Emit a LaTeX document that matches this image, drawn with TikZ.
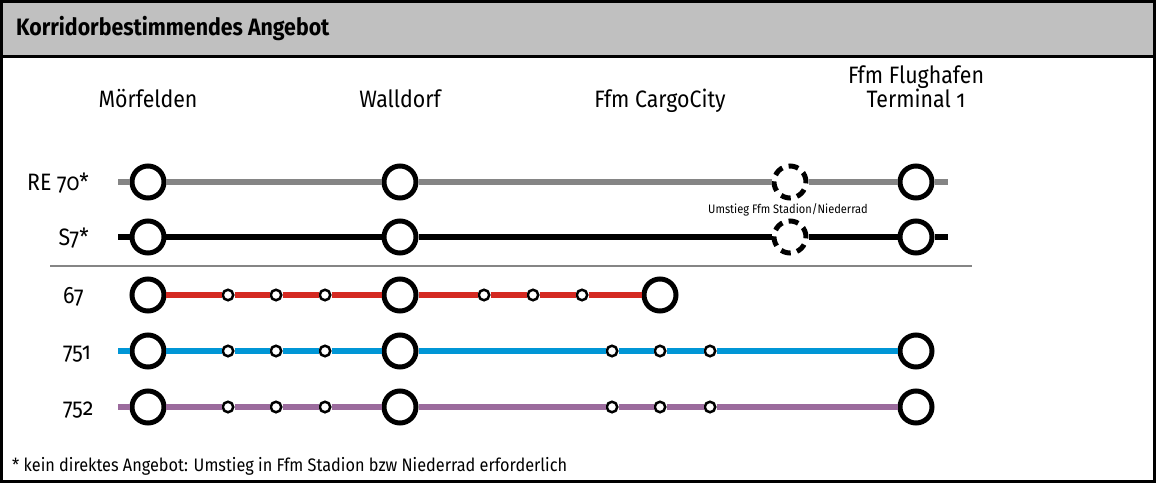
\documentclass[tikz,border=0pt]{standalone}
\usepackage{fontspec}
\setmainfont{Fira Sans}[Numbers=OldStyle, FakeStretch=0.9]
\usetikzlibrary{positioning}

\definecolor{headgray}{HTML}{C0C0C0}
\definecolor{regiogray}{HTML}{858585}
\definecolor{busred}{HTML}{D42A22}
\definecolor{busblue}{HTML}{0096D6}
\definecolor{buspurple}{HTML}{9B6B9D}

\begin{document}
\begin{tikzpicture}[x=0.02cm, y=-0.02cm,
  halt/.style = {draw, circle, fill=white, line width=0.1cm, minimum size=0.64cm, inner sep=0pt},
  stop/.style = {draw, circle, fill=white, line width=0.05cm, minimum size=0.21cm, inner sep=0pt},
  change/.style = {halt, dash pattern=on 0.2cm off 0.13cm},
  route/.style = {line width=0.12cm},
  stn/.style = {font=\fontsize{13.5}{16}\selectfont, align=center},
  rowlbl/.style = {font=\fontsize{13.5}{16}\selectfont}]
\useasboundingbox (0,0) rectangle (1156,483);

% frame and heading
\fill[headgray] (1.5,1.5) rectangle (1154.5,57);
\draw[line width=0.06cm] (1.5,1.5) rectangle (1154.5,481.5);
\draw[line width=0.06cm] (1.5,57) -- (1154.5,57);
\node[anchor=west, font=\fontsize{13.5}{16}\selectfont\bfseries] (title) at (10,29) {Korridorbestimmendes Angebot};

% station names
\node[stn, anchor=base] (nmoe) at (148,108) {Mörfelden};
\node[stn, anchor=base] (nwal) at (400,108) {Walldorf};
\node[stn, anchor=base] (ncgo) at (660,108) {Ffm CargoCity};
\node[stn, anchor=base] (nfra) at (916,108) {Terminal 1};
\node[stn, anchor=base] (nfra2) at (916,84) {Ffm Flughafen};

% rail lines
\node[rowlbl, anchor=base east] (lre) at (95,190) {RE 70*};
\node[rowlbl, anchor=base east] (ls7) at (95,245) {S7*};
\foreach \row/\y/\col in {re/182/regiogray, s/237/black} {
  \coordinate (\row0) at (118,\y);
  \coordinate (\row9) at (948,\y);
  \node[halt] (\row m) at (148,\y) {};
  \node[halt] (\row w) at (400,\y) {};
  \node[change] (\row x) at (790,\y) {};
  \node[halt] (\row t) at (916,\y) {};
  \foreach \a/\b in {0/m, m/w, w/x, x/t, t/9}
    \draw[route, \col, line width=0.11cm] (\row\a) -- (\row\b);
}
\node[font=\fontsize{7}{8}\selectfont] (umst) at (788,210) {Umstieg Ffm Stadion/Niederrad};
\coordinate (sepl) at (50,266);
\coordinate (sepr) at (972,266);
\draw[regiogray, line width=0.04cm] (sepl) -- (sepr);

% bus lines
\node[rowlbl, anchor=base west] (l67) at (57,303) {67};
\node[rowlbl, anchor=base west] (l751) at (57,359) {751};
\node[rowlbl, anchor=base west] (l752) at (57,415) {752};

\node[halt] (bm) at (148,295) {};
\node[halt] (bw) at (400,295) {};
\node[halt] (bc) at (660,295) {};
\foreach \x [count=\i] in {228,276,325,484,533,582}
  \node[stop] (b\i) at (\x,295) {};
\foreach \a/\b in {m/1, 1/2, 2/3, 3/w, w/4, 4/5, 5/6, 6/c}
  \draw[route, busred] (b\a) -- (b\b);

\foreach \row/\y/\col in {p/351/busblue, q/407/buspurple} {
  \coordinate (\row0) at (118,\y);
  \node[halt] (\row m) at (148,\y) {};
  \node[halt] (\row w) at (400,\y) {};
  \node[halt] (\row t) at (916,\y) {};
  \foreach \x [count=\i] in {228,276,325,612,660,710}
    \node[stop] (\row\i) at (\x,\y) {};
  \foreach \a/\b in {0/m, m/1, 1/2, 2/3, 3/w, w/4, 4/5, 5/6, 6/t}
    \draw[route, \col] (\row\a) -- (\row\b);
}

% footnote
\node[anchor=base west, font=\fontsize{10.3}{12}\selectfont] (foot) at (6,471) {* kein direktes Angebot: Umstieg in Ffm Stadion bzw Niederrad erforderlich};
\end{tikzpicture}
\end{document}
